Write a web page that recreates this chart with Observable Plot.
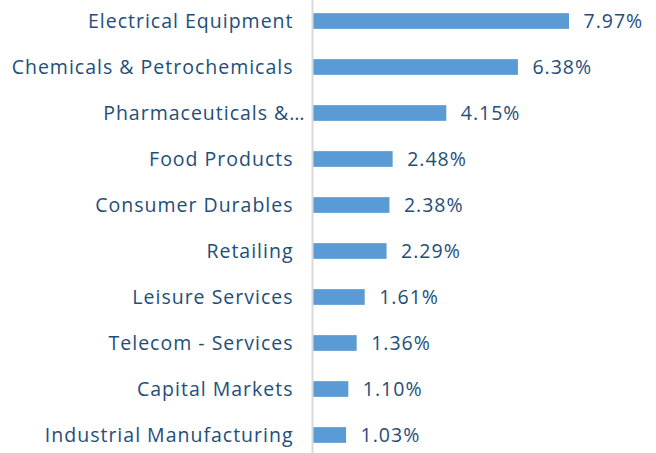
<!DOCTYPE html>
<html>
<head>
<meta charset="utf-8">
<script src="https://cdn.jsdelivr.net/npm/d3@7"></script>
<script src="https://cdn.jsdelivr.net/npm/@observablehq/plot@0.6"></script>
<style>
  html, body { margin: 0; padding: 0; background: #fff; }
  #chart svg { display: block; }
</style>
</head>
<body>
<div id="chart"></div>
<script>
const categories = [
  "Electrical Equipment",
  "Chemicals & Petrochemicals",
  "Pharmaceuticals &…",
  "Food Products",
  "Consumer Durables",
  "Retailing",
  "Leisure Services",
  "Telecom - Services",
  "Capital Markets",
  "Industrial Manufacturing"
];
const values = [7.97, 6.38, 4.15, 2.48, 2.38, 2.29, 1.61, 1.36, 1.10, 1.03];

const data = categories.map((c, i) => ({category: c, value: values[i]}));
const truncated = d => d.category.endsWith("…");

const textColor = "#1f4e79";
const barColor = "#5b9bd5";

const chart = Plot.plot({
  width: 656,
  height: 453,
  marginLeft: 313,
  marginRight: 0,
  marginTop: 0,
  marginBottom: 0,
  style: {fontFamily: "'Open Sans', sans-serif", background: "#fff", letterSpacing: "1px"},
  x: {domain: [0, 10], range: [313, 634.2], axis: null},
  y: {domain: categories, range: [-3.2, 460.2], padding: 0, axis: null},
  marks: [
    Plot.barX(data, {y: "category", x: "value", fill: barColor, insetTop: 15.15, insetBottom: 15.15}),
    Plot.ruleX([0], {stroke: "#d9d9d9", strokeWidth: 2, dx: -1}),
    Plot.text(data.filter(d => !truncated(d)), {y: "category", x: 0, text: "category", textAnchor: "end", dx: -20, fill: textColor, fontSize: 19.5}),
    Plot.text(data.filter(truncated), {y: "category", x: 0, text: "category", textAnchor: "end", dx: -8, fill: textColor, fontSize: 19.5}),
    Plot.text(data, {y: "category", x: "value", text: d => d.value.toFixed(2) + "%", textAnchor: "start", dx: 14, fill: textColor, fontSize: 19.5})
  ]
});
document.getElementById("chart").append(chart);
</script>
</body>
</html>
